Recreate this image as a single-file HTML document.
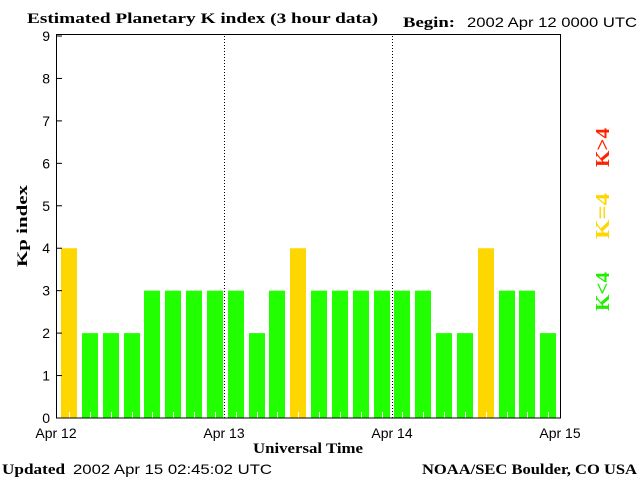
<!DOCTYPE html>
<html><head><meta charset="utf-8"><style>
body{margin:0;background:#fff}
svg{display:block}
.s{font-family:"Liberation Sans",sans-serif;font-size:14px}
.b{font-family:"Liberation Serif",serif;font-weight:bold;font-size:15px}
</style></head><body>
<svg id="c" width="640" height="480">
<text class="b" x="27" y="23" textLength="351" lengthAdjust="spacingAndGlyphs">Estimated Planetary K index (3 hour data)</text>
<text class="b" x="403" y="27" textLength="52" lengthAdjust="spacingAndGlyphs">Begin:</text>
<text class="s" x="467" y="27" textLength="170" lengthAdjust="spacingAndGlyphs">2002 Apr 12 0000 UTC</text>
<text class="b" x="27" y="226" transform="rotate(-90 27 226)" text-anchor="middle" textLength="82" lengthAdjust="spacingAndGlyphs">Kp index</text>
<text class="b" x="253" y="453" textLength="110" lengthAdjust="spacingAndGlyphs">Universal Time</text>
<text class="b" x="2" y="474" textLength="63" lengthAdjust="spacingAndGlyphs">Updated</text>
<text class="s" x="73" y="474" textLength="199" lengthAdjust="spacingAndGlyphs">2002 Apr 15 02:45:02 UTC</text>
<text class="b" x="422" y="474" textLength="215" lengthAdjust="spacingAndGlyphs">NOAA/SEC Boulder, CO USA</text>
<text class="b" x="291" y="609" transform="rotate(-90 0 0) translate(-582 0)" style="display:none"></text>
<text class="b" x="0" y="0" transform="translate(609 311) rotate(-90)" textLength="39" lengthAdjust="spacingAndGlyphs" fill="#22ee00" style="font-size:20px">K&lt;4</text>
<text class="b" x="0" y="0" transform="translate(609 239) rotate(-90)" textLength="46" lengthAdjust="spacingAndGlyphs" fill="#ffd700" style="font-size:20px">K=4</text>
<text class="b" x="0" y="0" transform="translate(609 167) rotate(-90)" textLength="39" lengthAdjust="spacingAndGlyphs" fill="#ff2200" style="font-size:20px">K&gt;4</text>
<g id="g"></g>
</svg>
<script>
const kpValues=[4,2,2,2,3,3,3,3,3,2,3,4,3,3,3,3,3,3,2,2,4,3,3,2];
const yTicks=[0,1,2,3,4,5,6,7,8,9];
const dayLabels=["Apr 12","Apr 13","Apr 14","Apr 15"];
const L=56,R=560,T=36,B=418;
const bx=i=>61+500*i/kpValues.length;
const dx=d=>L+(R-L)*d/3;
const y=v=>B-(B-T)*v/9;
const g=document.getElementById('g');
const NS="http://www.w3.org/2000/svg";
function mk(t,a){const e=document.createElementNS(NS,t);for(const k in a)e.setAttribute(k,a[k]);g.appendChild(e);return e;}
kpValues.forEach((v,i)=>{
 const r=mk('rect',{x:Math.round(bx(i)),y:y(v),width:16,height:B-y(v),fill:v<4?'#22ff00':v==4?'#ffd700':'#ff2200'});
 
 
 const tx=Math.round(bx(i))+8.5;
 const t=mk('line',{x1:tx,x2:tx,y1:B,y2:B-6,stroke:'#fff'});
 
 
});
for(let d=1;d<3;d++){const l=mk('line',{x1:dx(d)+0.5,x2:dx(d)+0.5,y1:T,y2:B,stroke:'#000','stroke-dasharray':'1,2'});
 
 }
const f=mk('rect',{x:L+0.5,y:T-1.5,width:R-L,height:B-T+1.5,fill:'none',stroke:'#000'});


yTicks.forEach(v=>{
 const l=mk('line',{x1:L,x2:L+6,y1:y(v),y2:y(v),stroke:'#000'});
 
 
 const t=mk('text',{x:L-6,y:y(v)+5,'text-anchor':'end',class:'s'});t.textContent=v;
 
 
});
dayLabels.forEach((s,d)=>{
 const t=mk('text',{x:dx(d),y:438,'text-anchor':'middle',class:'s'});t.textContent=s;
 
 
});
</script>
</body></html>
